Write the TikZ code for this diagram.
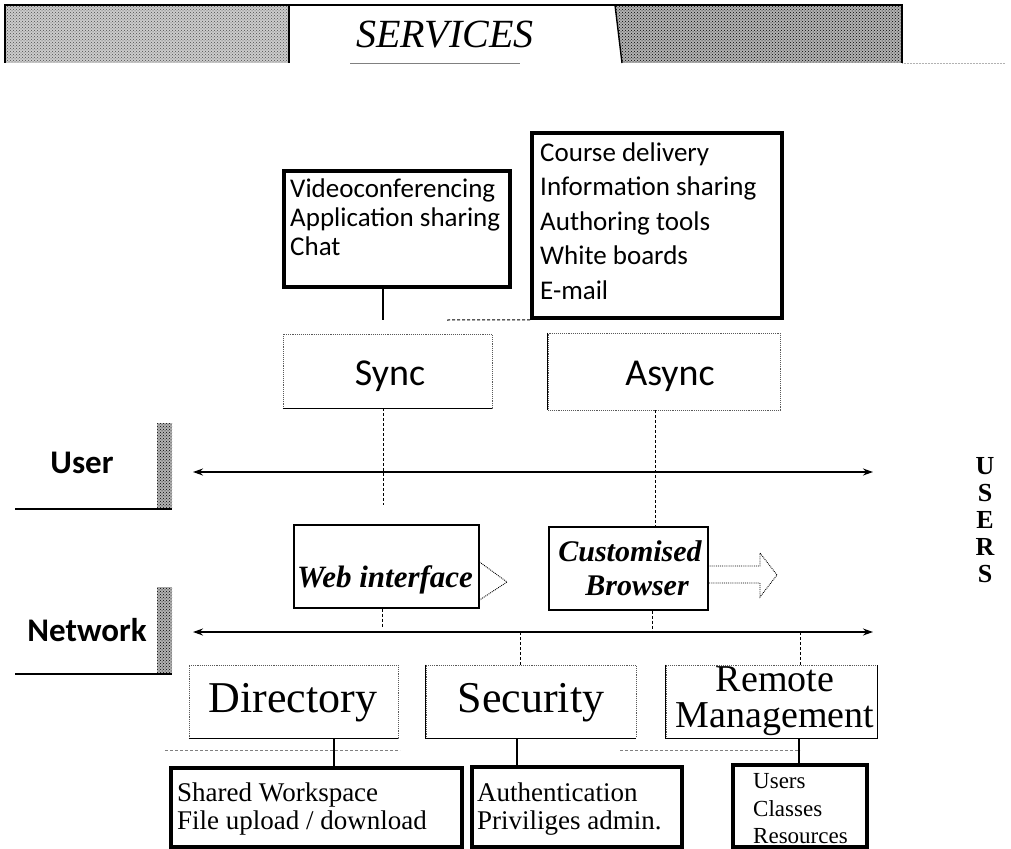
\documentclass[tikz,border=0pt]{standalone}
\usepackage{fontspec}
\setmainfont{Liberation Serif}
\newfontfamily\carl{Carlito}
\usetikzlibrary{patterns,arrows.meta}
\begin{document}
\begin{tikzpicture}[x=1pt,y=-1pt,
  hatch/.style={fill=gray!40, postaction={pattern=crosshatch dots, pattern color=black!70}},
  darkhatch/.style={fill=gray!60, postaction={pattern=crosshatch dots, pattern color=black}},
  listbox/.style={draw, line width=3.6pt, inner sep=0pt},
  dotbox/.style={draw=gray!70!black, densely dotted, line width=0.9pt, inner sep=0pt},
  listtext/.style={inner sep=0pt, align=left, anchor=west},
  sanslist/.style={font=\carl\fontsize{27}{29}\selectfont},
  seriflist/.style={font=\fontsize{27}{28}\selectfont},
  bigserif/.style={font=\fontsize{44}{44}\selectfont},
  boxlabel/.style={font=\carl\bfseries\fontsize{33}{33}\selectfont, inner sep=0pt},
  bothway/.style={line width=1.4pt, {Stealth[length=10pt,width=7pt]}-{Stealth[length=10pt,width=7pt]}},
  thinlink/.style={line width=0.8pt, dashed, dash pattern=on 3pt off 2pt},
  solidlink/.style={line width=1.1pt}]
\useasboundingbox (0,0) rectangle (1011,848);

% ---------- banner ----------
\path[hatch] (5,5) rectangle (289,63);
\draw[line width=1.4pt] (5,63) -- (5,5) -- (615,5);
\draw[line width=1.4pt] (289,5) -- (289,63);
\path[darkhatch] (615,5) -- (902,5) -- (902,63) -- (622,63) -- cycle;
\draw[line width=1.4pt] (600,5) -- (902,5) -- (902,63);
\draw[line width=1.4pt] (615,5) -- (622,63);
\draw[gray, line width=0.6pt] (350,63) -- (520,63);
\draw[gray!60, line width=0.5pt, densely dotted] (902,63) -- (1005,63);
\node[font=\itshape\fontsize{40}{40}\selectfont, inner sep=0pt] (services) at (445,35) {SERVICES};

% ---------- service lists ----------
\node[listbox, minimum width=226pt, minimum height=116pt] (synclist) at (397,229) {};
\node[listtext, sanslist] (synctext) at (290,217) {Videoconferencing\\Application sharing\\Chat};
\node[listbox, minimum width=250pt, minimum height=185pt] (asynclist) at (657,225.5) {};
\node[listtext, font=\carl\fontsize{27}{34.5}\selectfont] (asynctext) at (540,221) {Course delivery\\Information sharing\\Authoring tools\\White boards\\E-mail};

% ---------- sync / async ----------
\node[dotbox, minimum width=209pt, minimum height=74pt] (sync) at (387.5,371) {};
\draw[line width=1.6pt] (sync.south west) -- (sync.south east);
\node[font=\carl\fontsize{38}{38}\selectfont, inner sep=0pt] (synctxt) at (390,376) {Sync};
\node[dotbox, minimum width=232pt, minimum height=77pt] (async) at (664,371.5) {};
\draw[line width=1pt] (async.north west) -- (async.south west);
\node[font=\carl\fontsize{38}{38}\selectfont, inner sep=0pt] (asynctxt) at (670,376) {Async};

\coordinate (sl1) at (383,320);
\coordinate (sl2) at (447,320);
\draw[solidlink] (synclist.south -| sl1) -- (sl1);
\draw[thinlink, line width=1pt] (sl2) -- (asynclist.south west);

% ---------- side labels ----------
\path[darkhatch] (157,423) rectangle (172,509);
\draw[line width=1.8pt] (15,509) -- (172,509);
\node[boxlabel] (userlbl) at (82,463) {User};
\path[darkhatch] (157,587) rectangle (172,674);
\draw[line width=1.8pt] (15,674) -- (172,674);
\node[boxlabel] (netlbl) at (87,630) {Network};

% ---------- user / network buses ----------
\coordinate (uL) at (193,472);
\coordinate (uR) at (873,472);
\draw[bothway] (uL) -- (uR);
\coordinate (nL) at (193,632);
\coordinate (nR) at (873,632);
\draw[bothway] (nL) -- (nR);

% ---------- interfaces ----------
\node[draw, line width=1.1pt, minimum width=185pt, minimum height=83pt, inner sep=0pt] (web) at (386.5,566.5) {};
\node[font=\bfseries\itshape\fontsize{31}{31}\selectfont, inner sep=0pt] (webtxt) at (385,580) {Web interface};
\draw[densely dotted, line width=0.9pt] (web.east |- 0,562) -- (507,582) -- (web.east |- 0,600);
\node[draw, line width=1.1pt, minimum width=159pt, minimum height=83pt, inner sep=0pt] (cust) at (628.5,568.5) {};
\node[font=\bfseries\itshape\fontsize{30}{34}\selectfont, inner sep=0pt, align=center] (custtxt) at (630,568) {Customised\\\hspace*{14pt}Browser};
\draw[densely dotted, line width=0.9pt] (cust.east |- 0,566) -- (760,566) -- (760,553) -- (777,575) -- (760,597) -- (760,583) -- (cust.east |- 0,583);

\draw[thinlink] (sync.south -| sl1) -- (383,505);
\draw[thinlink] (async.south -| 655,0) -- (cust.north -| 655,0);
\draw[thinlink] (web.south -| 382,0) -- (382,628);
\draw[thinlink] (cust.south -| 652,0) -- (652,632);

% ---------- network services ----------
\node[dotbox, minimum width=209pt, minimum height=73pt] (dir) at (293.5,701.5) {};
\draw[line width=1.5pt] (dir.south west) -- (dir.south east);
\node[bigserif, inner sep=0pt] (dirtxt) at (293,703) {Directory};
\node[dotbox, minimum width=210pt, minimum height=73pt] (sec) at (531,701.5) {};
\draw[line width=1pt] (sec.north west) -- (sec.south west) -- (sec.south east);
\node[bigserif, inner sep=0pt] (sectxt) at (531,703) {Security};
\node[dotbox, minimum width=211pt, minimum height=73pt] (rem) at (771.5,701.5) {};
\draw[line width=1pt] (rem.north west) -- (rem.south west) -- (rem.south east) -- (rem.north east);
\node[font=\fontsize{38}{36}\selectfont, inner sep=0pt, align=center] (remtxt) at (775,701) {Remote\\Management};

\draw[thinlink] (520,632) -- (sec.north -| 520,0);
\draw[thinlink] (800,632) -- (rem.north -| 800,0);

% ---------- bottom boxes ----------
\node[listbox, minimum width=291pt, minimum height=79pt] (shared) at (316.5,807.5) {};
\node[listtext, seriflist] (sharedtxt) at (177,809) {Shared Workspace\\File upload / download};
\node[listbox, minimum width=210pt, minimum height=80pt] (auth) at (577,807) {};
\node[listtext, seriflist] (authtxt) at (477,809) {Authentication\\Priviliges admin.};
\node[listbox, minimum width=134pt, minimum height=82pt] (users) at (800,806) {};
\node[listtext, font=\fontsize{23}{27.5}\selectfont] (userstxt) at (753,809) {Users\\Classes\\Resources};

\draw[thinlink, gray] (165,750) -- (400,750);
\draw[thinlink, gray] (620,750) -- (800,750);
\draw[solidlink] (dir.south -| 334,0) -- (shared.north -| 334,0);
\draw[solidlink] (sec.south -| 517,0) -- (auth.north -| 517,0);
\draw[solidlink] (rem.south -| 799,0) -- (users.north -| 799,0);

% ---------- USERS ----------
\node[font=\bfseries\fontsize{26}{27}\selectfont, align=center, inner sep=0pt] (userscol) at (985,520) {U\\S\\E\\R\\S};
\end{tikzpicture}
\end{document}
